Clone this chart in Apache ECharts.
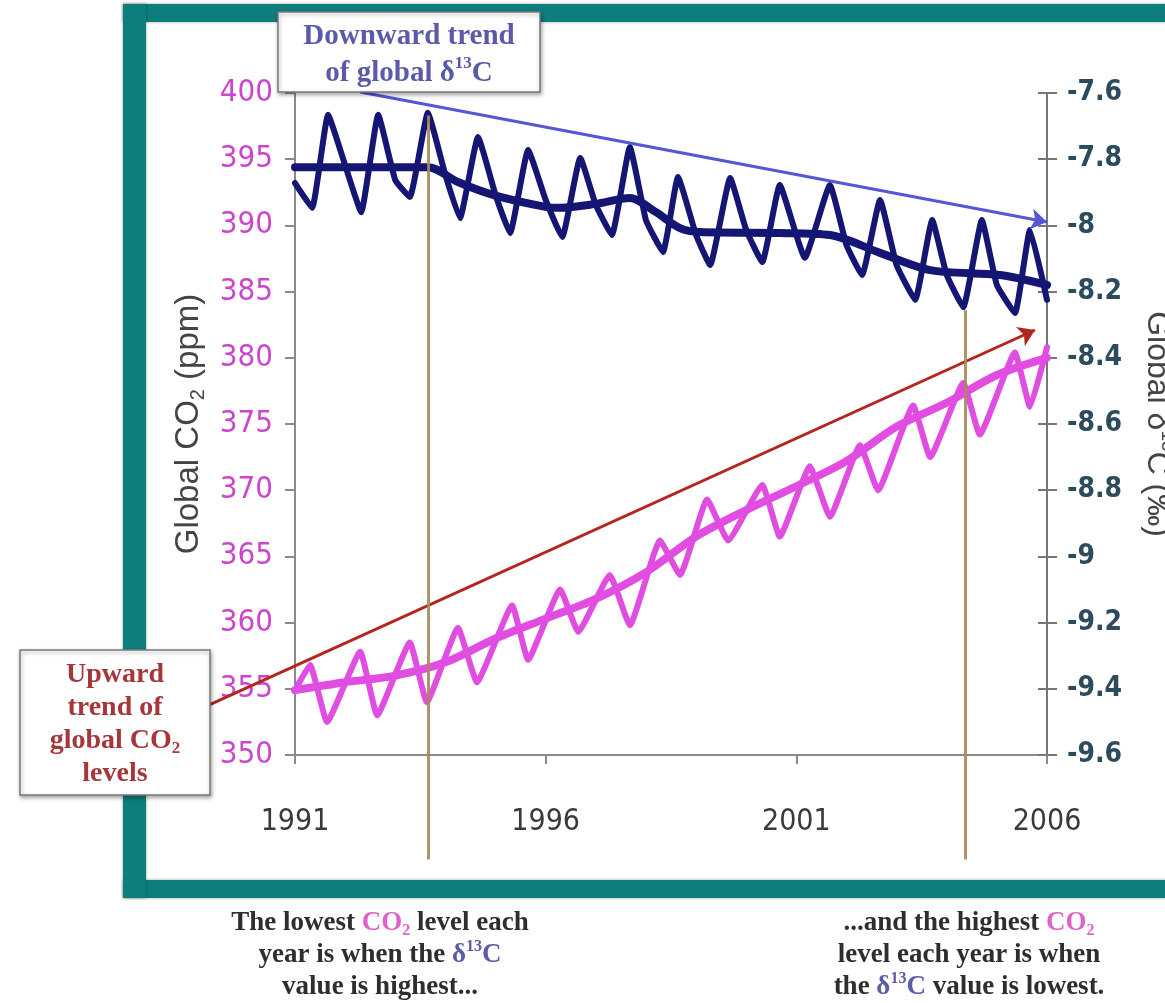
<!DOCTYPE html>
<html><head><meta charset="utf-8">
<script src="https://cdn.jsdelivr.net/npm/echarts@6/dist/echarts.min.js"></script>
<style>html,body{margin:0;padding:0;background:#fff}#c{width:1165px;height:1003px}</style>
</head><body><div id="c"></div>
<script>
// ---------- data ----------
const xTickYears = [1991, 1996, 2001, 2006];

const co2Years = [1991.00, 1991.30, 1991.64, 1992.30, 1992.64, 1993.29, 1993.63, 1994.25, 1994.63, 1995.33, 1995.65, 1996.29, 1996.65, 1997.28, 1997.68, 1998.28, 1998.68, 1999.22, 1999.64, 2000.32, 2000.67, 2001.27, 2001.67, 2002.27, 2002.63, 2003.33, 2003.67, 2004.33, 2004.66, 2005.36, 2005.66, 2006.00];
const co2Values = [354.9, 356.8, 352.5, 357.8, 353.0, 358.5, 354.0, 359.6, 355.5, 361.3, 357.2, 362.5, 359.3, 363.6, 359.8, 366.2, 363.6, 369.3, 366.2, 370.4, 366.5, 371.8, 368.0, 373.4, 370.0, 376.4, 372.5, 378.1, 374.2, 380.4, 376.3, 380.8];

const co2TrendYears = [1991, 1992, 1993, 1994, 1995, 1996, 1997, 1998, 1999, 2000, 2001, 2002, 2003, 2004, 2005, 2006];
const co2TrendValues = [354.9, 355.5, 356.0, 357.0, 358.8, 360.3, 361.8, 363.8, 366.5, 368.5, 370.3, 372.2, 374.8, 376.6, 378.7, 380.0];

const d13cYears = [1991.00, 1991.34, 1991.66, 1992.00, 1992.32, 1992.66, 1993.00, 1993.29, 1993.65, 1994.00, 1994.29, 1994.65, 1995.00, 1995.29, 1995.65, 1996.00, 1996.33, 1996.69, 1997.00, 1997.32, 1997.68, 1998.00, 1998.34, 1998.64, 1999.00, 1999.28, 1999.68, 2000.00, 2000.32, 2000.67, 2001.17, 2001.67, 2002.00, 2002.31, 2002.67, 2003.00, 2003.37, 2003.71, 2004.00, 2004.33, 2004.70, 2005.00, 2005.36, 2005.66, 2006.00];
const d13cValues = [-7.872, -7.947, -7.666, -7.818, -7.960, -7.666, -7.863, -7.914, -7.660, -7.848, -7.978, -7.733, -7.908, -8.023, -7.772, -7.923, -8.035, -7.796, -7.938, -8.029, -7.763, -7.984, -8.080, -7.854, -8.029, -8.120, -7.857, -8.014, -8.111, -7.878, -8.098, -7.878, -8.059, -8.150, -7.923, -8.120, -8.225, -7.984, -8.150, -8.247, -7.984, -8.180, -8.265, -8.014, -8.225];

const d13cTrendYears = [1991.0, 1993.65, 1994.25, 1995.0, 1996.0, 1996.3, 1997.0, 1997.68, 1998.2, 1998.68, 1999.08, 2000.67, 2001.67, 2002.67, 2003.67, 2005.06, 2006.0];
const d13cTrendValues = [-7.824, -7.824, -7.869, -7.910, -7.944, -7.947, -7.935, -7.917, -7.960, -8.008, -8.020, -8.023, -8.029, -8.083, -8.135, -8.150, -8.180];

// vertical marker lines (year, top CO2 value, bottom CO2 value)
const markerYears = [1993.65, 2004.37];
const markerTopCO2 = [398.3, 383.6];
const markerBottomCO2 = 342.1;

// trend arrows
const d13cArrowFrom = [1992.30, -7.597];
const d13cArrowTo = [2006.00, -7.990];
const co2ArrowFrom = [1989.30, 353.8];
const co2ArrowTo = [2005.76, 382.1];

// ---------- chart ----------
const zip = (a, b) => a.map((v, i) => [v, b[i]]);
const narrow = "'DejaVu Sans Condensed','Liberation Sans Narrow','Arial Narrow',sans-serif";
const sans = "'Liberation Sans',Arial,sans-serif";
const serif = "'Liberation Serif','Times New Roman',serif";
const MAG = '#e14ce1', NAVY = '#151573', TEAL = '#0e7e7d', AXIS = '#8a8a8a';

const chart = echarts.init(document.getElementById('c'), null, {renderer: 'canvas', width: 1165, height: 1003});

function richSet(size, color, weight, family, lh) {
  const sub = Math.round(size * 0.6);
  return {
    t: {fontFamily: family, fontSize: size, fontWeight: weight, fill: color, lineHeight: lh},
    p: {fontFamily: family, fontSize: size, fontWeight: weight, fill: '#e062c8', lineHeight: lh},
    ps: {fontFamily: family, fontSize: sub, fontWeight: weight, fill: '#e062c8', lineHeight: Math.round(lh * 0.62), verticalAlign: 'bottom'},
    b: {fontFamily: family, fontSize: size, fontWeight: weight, fill: '#5b5ba6', lineHeight: lh},
    bs: {fontFamily: family, fontSize: sub, fontWeight: weight, fill: '#5b5ba6', lineHeight: Math.round(lh * 0.55), verticalAlign: 'top'},
    s: {fontFamily: family, fontSize: sub, fontWeight: weight, fill: color, lineHeight: Math.round(lh * 0.55), verticalAlign: 'top'},
    d: {fontFamily: family, fontSize: sub, fontWeight: weight, fill: color, lineHeight: Math.round(lh * 0.62), verticalAlign: 'bottom'}
  };
}

const option = {
  animation: false,
  backgroundColor: '#ffffff',
  grid: {left: 295, right: 118, top: 93, bottom: 248, containLabel: false, outerBoundsMode: 'none'},
  xAxis: {
    type: 'value', min: 1991, max: 2006,
    axisLine: {show: true, onZero: false, lineStyle: {color: AXIS, width: 2}},
    axisTick: {show: true, customValues: xTickYears, length: 9, lineStyle: {color: AXIS, width: 2}},
    axisLabel: {customValues: xTickYears, margin: 52, fontFamily: narrow, fontSize: 30, color: '#3a3a3a',
      formatter: v => String(v)},
    splitLine: {show: false}
  },
  yAxis: [
    {
      type: 'value', min: 350, max: 400, interval: 5, position: 'left',
      name: '{a|Global CO}{s|2}{a| (ppm)}', nameLocation: 'middle', nameRotate: 90, nameGap: 86,
      nameTextStyle: {rich: {
        a: {fontFamily: sans, fontSize: 33, color: '#444', lineHeight: 40},
        s: {fontFamily: sans, fontSize: 20, color: '#444', lineHeight: 24, verticalAlign: 'bottom'}
      }},
      axisLine: {show: true, onZero: false, lineStyle: {color: AXIS, width: 2}},
      axisTick: {show: true, length: 10, lineStyle: {color: AXIS, width: 2}},
      axisLabel: {margin: 22, fontFamily: narrow, fontSize: 31, color: '#cc45cc'},
      splitLine: {show: false}
    },
    {
      type: 'value', min: -9.6, max: -7.6, interval: 0.2, position: 'right',
      name: '{a|Global δ}{s|13}{a|C (‰)}', nameLocation: 'middle', nameRotate: -90, nameGap: 90,
      nameTextStyle: {rich: {
        a: {fontFamily: sans, fontSize: 32, color: '#444', lineHeight: 40},
        s: {fontFamily: sans, fontSize: 19, color: '#444', lineHeight: 22, verticalAlign: 'top'}
      }},
      axisLine: {show: true, onZero: false, lineStyle: {color: '#777', width: 2}},
      axisTick: {show: true, length: 10, lineStyle: {color: '#777', width: 2}},
      axisLabel: {margin: 20, fontFamily: narrow, fontSize: 28, fontWeight: 'bold', color: '#2c4b5c',
        formatter: v => String(Math.round(v * 10) / 10)},
      splitLine: {show: false}
    },
    {
      // inner half of the crossing tick marks on the right axis
      type: 'value', min: -9.6, max: -7.6, interval: 0.2, position: 'right',
      axisLine: {show: false}, axisLabel: {show: false}, splitLine: {show: false},
      axisTick: {show: true, inside: true, length: 9, lineStyle: {color: '#777', width: 2}}
    }
  ],
  series: [
    {type: 'line', name: 'CO2', yAxisIndex: 0, data: zip(co2Years, co2Values), showSymbol: false, symbol: 'none', silent: true, z: 3,
     smooth: 0.12, lineStyle: {color: MAG, width: 6, join: 'round', cap: 'round'}},
    {type: 'line', name: 'CO2 trend', yAxisIndex: 0, data: zip(co2TrendYears, co2TrendValues), showSymbol: false, symbol: 'none', silent: true, z: 3,
     smooth: 0.3, lineStyle: {color: MAG, width: 8, join: 'round', cap: 'round'}},
    {type: 'line', name: 'd13C', yAxisIndex: 1, data: zip(d13cYears, d13cValues), showSymbol: false, symbol: 'none', silent: true, z: 3,
     smooth: 0.12, lineStyle: {color: NAVY, width: 6, join: 'round', cap: 'round'}},
    {type: 'line', name: 'd13C trend', yAxisIndex: 1, data: zip(d13cTrendYears, d13cTrendValues), showSymbol: false, symbol: 'none', silent: true, z: 3,
     smooth: 0.3, lineStyle: {color: NAVY, width: 8, join: 'round', cap: 'round'}},
    {type: 'lines', coordinateSystem: 'cartesian2d', xAxisIndex: 0, yAxisIndex: 0, clip: false, silent: true, z: 5,
     symbol: 'none',
     lineStyle: {color: '#a88a5a', width: 3, opacity: 0.9},
     data: markerYears.map((y, i) => ({coords: [[y, markerTopCO2[i]], [y, markerBottomCO2]]}))},
    {type: 'lines', coordinateSystem: 'cartesian2d', xAxisIndex: 0, yAxisIndex: 1, clip: false, silent: true, z: 4,
     symbol: ['none', 'arrow'], symbolSize: [0, 16],
     lineStyle: {color: '#5656d6', width: 3, opacity: 1},
     data: [{coords: [d13cArrowFrom, d13cArrowTo]}]},
    {type: 'lines', coordinateSystem: 'cartesian2d', xAxisIndex: 0, yAxisIndex: 0, clip: false, silent: true, z: 4,
     symbol: ['none', 'arrow'], symbolSize: [0, 16],
     lineStyle: {color: '#b3261e', width: 3, opacity: 1},
     data: [{coords: [co2ArrowFrom, co2ArrowTo]}]}
  ],
  graphic: {elements: [
    // teal frame
    {type: 'rect', z: 0, silent: true, shape: {x: 123, y: 4, width: 1100, height: 18}, style: {fill: TEAL, shadowBlur: 3, shadowColor: 'rgba(0,0,0,0.35)'}},
    {type: 'rect', z: 0, silent: true, shape: {x: 123, y: 880, width: 1100, height: 18}, style: {fill: TEAL, shadowBlur: 3, shadowColor: 'rgba(0,0,0,0.35)'}},
    {type: 'rect', z: 0, silent: true, shape: {x: 123, y: 4, width: 23, height: 894}, style: {fill: TEAL, shadowBlur: 3, shadowColor: 'rgba(0,0,0,0.35)'}},
    // annotation box: downward trend
    {type: 'rect', z: 100, silent: true, shape: {x: 278, y: 12, width: 262, height: 80},
     style: {fill: '#fff', stroke: '#7a7a7a', lineWidth: 1.5, shadowBlur: 4, shadowOffsetX: 1, shadowOffsetY: 2, shadowColor: 'rgba(0,0,0,0.35)'}},
    {type: 'text', z: 101, silent: true, x: 409, y: 55,
     style: {text: '{t|Downward trend}\n{t|of global δ}{s|13}{t|C}', textAlign: 'center', verticalAlign: 'middle',
       rich: richSet(29, '#5a5aa8', 'bold', serif, 37)}},
    // annotation box: upward trend
    {type: 'rect', z: 100, silent: true, shape: {x: 20, y: 650, width: 190, height: 145},
     style: {fill: '#fff', stroke: '#7a7a7a', lineWidth: 1.5, shadowBlur: 4, shadowOffsetX: 1, shadowOffsetY: 2, shadowColor: 'rgba(0,0,0,0.35)'}},
    {type: 'text', z: 101, silent: true, x: 115, y: 724,
     style: {text: '{t|Upward}\n{t|trend of}\n{t|global CO}{d|2}\n{t|levels}', textAlign: 'center', verticalAlign: 'middle',
       rich: richSet(28, '#a5373a', 'bold', serif, 33)}},
    // bottom captions
    {type: 'text', z: 101, silent: true, x: 380, y: 955,
     style: {text: '{t|The lowest }{p|CO}{ps|2}{t| level each}\n{t|year is when the }{b|δ}{bs|13}{b|C}\n{t|value is highest...}',
       textAlign: 'center', verticalAlign: 'middle', rich: richSet(27, '#2e2e2e', 'bold', serif, 32)}},
    {type: 'text', z: 101, silent: true, x: 969, y: 955,
     style: {text: '{t|...and the highest }{p|CO}{ps|2}\n{t|level each year is when}\n{t|the }{b|δ}{bs|13}{b|C}{t| value is lowest.}',
       textAlign: 'center', verticalAlign: 'middle', rich: richSet(27, '#2e2e2e', 'bold', serif, 32)}}
  ]}
};
chart.setOption(option);
</script>
</body></html>
